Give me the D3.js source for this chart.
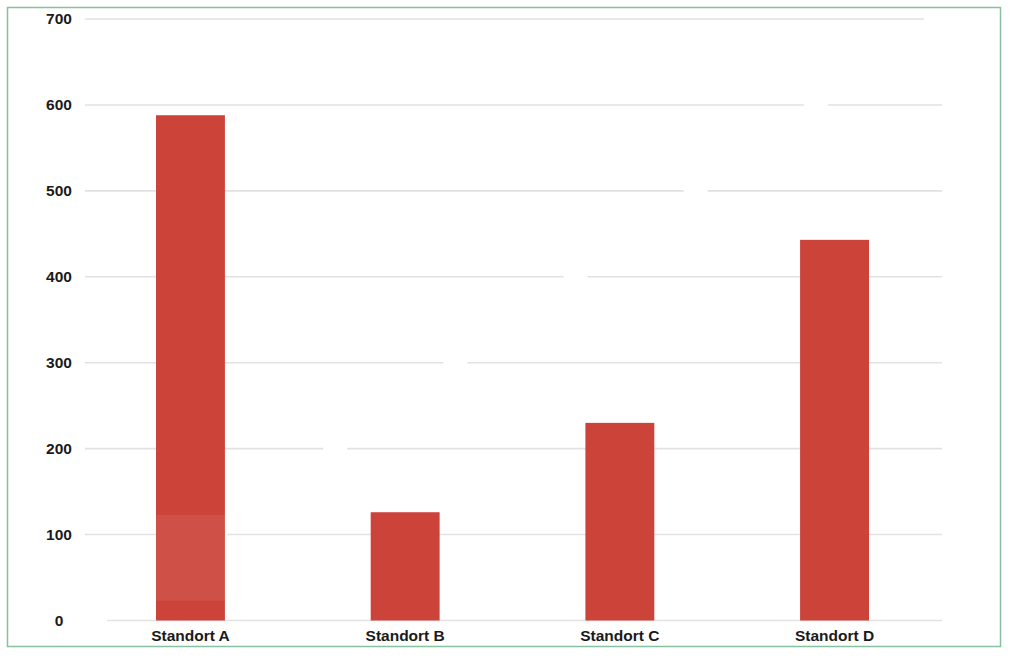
<!DOCTYPE html>
<html>
<head>
<meta charset="utf-8">
<script src="https://cdn.jsdelivr.net/npm/d3@7/dist/d3.min.js"></script>
<style>
  html, body { margin: 0; padding: 0; background: #fff; }
  svg { display: block; }
  text { font-family: "Liberation Sans", Arial, Helvetica, sans-serif; font-weight: bold; fill: #1a1a1a; }
</style>
</head>
<body>
<svg id="chart" width="1010" height="656"></svg>
<script>
// data
const categories = ['Standort A', 'Standort B', 'Standort C', 'Standort D'];
const values = [588, 126, 230, 443];
const yTicks = [0, 100, 200, 300, 400, 500, 600, 700];
// lighter band seen on the first bar (value range)
const highlight = { category: 'Standort A', from: 23, to: 123 };

const width = 1010, height = 656;
const svg = d3.select('#chart');

// frame
svg.append('rect')
  .attr('x', 7.5).attr('y', 7.5)
  .attr('width', 993).attr('height', 639)
  .attr('fill', '#fff')
  .attr('stroke', '#86c2a0')
  .attr('stroke-width', 1.5);

var x = d3.scaleBand()
  .domain(categories)
  .range([83, 942])
  .paddingInner(0.679)
  .paddingOuter(0.34);

var y = d3.scaleLinear()
  .domain([0, 700])
  .range([620.5, 19]);

// the gridlines are broken by a diagonal white streak
var gapX = d3.scaleLinear().domain([0, 700]).range([83, 924]);
var gapW = 24, gridLeft = 85, gridRight = 942;

var grid = svg.append('g').attr('class', 'grid');
yTicks.forEach(function(t) {
  var g0 = gapX(t), g1 = g0 + gapW;
  var segs = [];
  if (g0 > gridLeft) segs.push([gridLeft, Math.min(g0, gridRight)]);
  if (g1 < gridRight) segs.push([Math.max(g1, gridLeft), gridRight]);
  segs.forEach(function(s) {
    grid.append('line')
      .attr('x1', s[0]).attr('x2', s[1])
      .attr('y1', y(t)).attr('y2', y(t))
      .attr('stroke', '#e2e2e2')
      .attr('stroke-width', 1.6);
  });
});

// y axis labels
var yAxis = d3.axisLeft(y).tickValues(yTicks).tickSize(0).tickPadding(0);
var yg = svg.append('g').attr('transform', 'translate(59,0)').call(yAxis);
yg.select('.domain').remove();
yg.selectAll('text')
  .attr('text-anchor', 'middle')
  .attr('x', 0)
  .style('font-size', '15.5px')
  .style('font-family', '"Liberation Sans", Arial, sans-serif')
  .style('font-weight', 'bold')
  .attr('fill', '#1a1a1a');

// bars
svg.append('g').selectAll('rect')
  .data(categories)
  .join('rect')
  .attr('x', function(d) { return x(d); })
  .attr('width', x.bandwidth())
  .attr('y', function(d, i) { return y(values[i]); })
  .attr('height', function(d, i) { return y(0) - y(values[i]); })
  .attr('fill', '#cc433a');

svg.append('rect')
  .attr('x', x(highlight.category))
  .attr('width', x.bandwidth())
  .attr('y', y(highlight.to))
  .attr('height', y(highlight.from) - y(highlight.to))
  .attr('fill', '#ffffff')
  .attr('opacity', 0.07);

// x axis labels
var xAxis = d3.axisBottom(x).tickSize(0).tickPadding(0);
var xg = svg.append('g').attr('transform', 'translate(0,' + 630 + ')').call(xAxis);
xg.select('.domain').remove();
xg.selectAll('text')
  .attr('dy', '0.71em')
  .style('font-size', '15.5px')
  .style('font-family', '"Liberation Sans", Arial, sans-serif')
  .style('font-weight', 'bold')
  .attr('fill', '#1a1a1a');
</script>
</body>
</html>
